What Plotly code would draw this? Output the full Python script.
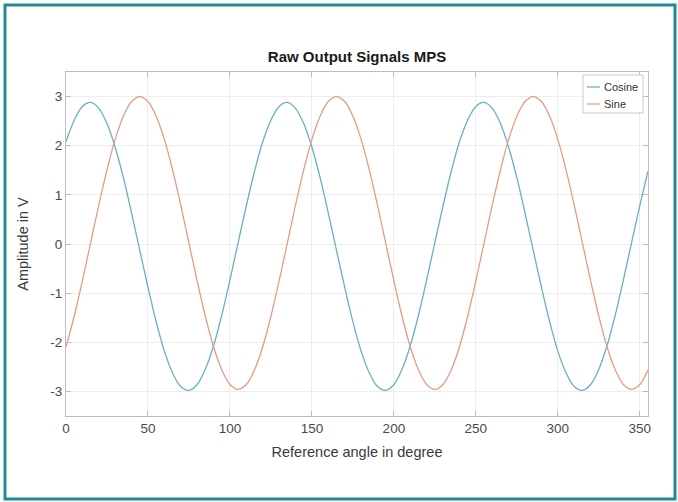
import plotly.graph_objects as go

# Reference angle in degrees (5 degree steps)
angle_deg = list(range(0, 360, 5))

# Cosine channel output, volts
cosine_v = [
    2.08, 2.52, 2.80, 2.88, 2.76, 2.45, 1.97, 1.35, 0.63, -0.13, -0.88, -1.58,
    -2.18, -2.62, -2.90, -2.98, -2.86, -2.55, -2.07, -1.45, -0.73, 0.03, 0.78, 1.48,
    2.08, 2.52, 2.80, 2.88, 2.76, 2.45, 1.97, 1.35, 0.63, -0.13, -0.88, -1.58,
    -2.18, -2.62, -2.90, -2.98, -2.86, -2.55, -2.07, -1.45, -0.73, 0.03, 0.78, 1.48,
    2.08, 2.52, 2.80, 2.88, 2.76, 2.45, 1.97, 1.35, 0.63, -0.13, -0.88, -1.58,
    -2.18, -2.62, -2.90, -2.98, -2.86, -2.55, -2.07, -1.45, -0.73, 0.03, 0.78, 1.48,
]

# Sine channel output, volts
sine_v = [
    -2.09, -1.47, -0.75, 0.02, 0.79, 1.51, 2.13, 2.60, 2.90, 3.00, 2.90, 2.60,
    2.13, 1.51, 0.79, 0.02, -0.75, -1.47, -2.09, -2.56, -2.86, -2.96, -2.86, -2.56,
    -2.09, -1.47, -0.75, 0.02, 0.79, 1.51, 2.13, 2.60, 2.90, 3.00, 2.90, 2.60,
    2.13, 1.51, 0.79, 0.02, -0.75, -1.47, -2.09, -2.56, -2.86, -2.96, -2.86, -2.56,
    -2.09, -1.47, -0.75, 0.02, 0.79, 1.51, 2.13, 2.60, 2.90, 3.00, 2.90, 2.60,
    2.13, 1.51, 0.79, 0.02, -0.75, -1.47, -2.09, -2.56, -2.86, -2.96, -2.86, -2.56,
]

x_ticks = [0, 50, 100, 150, 200, 250, 300, 350]
y_ticks = [-3, -2, -1, 0, 1, 2, 3]
y_tick_text = ["-3", "-2", "-1", "0", "1", "2", "3"]

series_names = ["Cosine", "Sine"]
series_colors = ["#68b2c0", "#e69c84"]

FONT = "Liberation Sans, Arial, sans-serif"

# Plot-area placement in pixels (used for the frame and the legend box)
L, R, T, B = 66, 648, 72, 416
W, H = R - L, B - T


def px_x(px):
    return (px - L) / W


def px_y(py):
    return (B - py) / H


fig = go.Figure()
for name, vals, col in zip(series_names, [cosine_v, sine_v], series_colors):
    fig.add_trace(go.Scatter(
        x=angle_deg, y=vals, name=name, mode="lines",
        line=dict(color=col, width=1.3, shape="spline", smoothing=1.0),
        showlegend=False,
    ))

axis_common = dict(
    showline=True, linecolor="#bcbcbc", linewidth=1.2, mirror="ticks",
    ticks="inside", ticklen=5, tickcolor="#bcbcbc",
    showgrid=True, gridcolor="#ededed", gridwidth=1,
    zeroline=False,
    tickfont=dict(family=FONT, size=13.5, color="#4a4a4a"),
)

fig.update_layout(
    width=678, height=502,
    margin=dict(l=L, r=678 - R, t=T, b=502 - B),
    paper_bgcolor="white", plot_bgcolor="white",
    title=dict(
        text="<b>Raw Output Signals MPS</b>",
        x=(357 / 678), xanchor="center",
        y=1 - 57 / 502, yanchor="middle",
        font=dict(family=FONT, size=15, color="#1a1a1a"),
    ),
    xaxis=dict(
        range=[0, 355], tickvals=x_ticks,
        title=dict(text="Reference angle in degree", standoff=11,
                   font=dict(family=FONT, size=14.5, color="#3a3a3a")),
        **axis_common,
    ),
    yaxis=dict(
        range=[-3.5, 3.5], tickvals=y_ticks, ticktext=y_tick_text,
        title=dict(text="Amplitude in V", standoff=18,
                   font=dict(family=FONT, size=14.5, color="#3a3a3a")),
        **axis_common,
    ),
    showlegend=False,
)

# Compact legend box in the upper right corner
fig.add_shape(
    type="rect", xref="paper", yref="paper",
    x0=px_x(583), x1=px_x(643), y0=px_y(113), y1=px_y(75),
    line=dict(color="#c8c8c8", width=1), fillcolor="white", layer="above",
)
for i, (name, col) in enumerate(zip(series_names, series_colors)):
    yy = px_y(87 + i * 17)
    fig.add_shape(
        type="line", xref="paper", yref="paper",
        x0=px_x(587), x1=px_x(600), y0=yy, y1=yy,
        line=dict(color=col, width=1.3), layer="above",
    )
    fig.add_annotation(
        x=px_x(602), y=yy, xref="paper", yref="paper",
        text=name, showarrow=False, xanchor="left", yanchor="middle",
        font=dict(family=FONT, size=11, color="#333333"),
    )

# Teal frame around the whole figure
fig.add_shape(
    type="rect", xref="paper", yref="paper",
    x0=px_x(5), x1=px_x(675), y0=px_y(499), y1=px_y(5),
    line=dict(color="#1f8a8f", width=3), fillcolor="rgba(0,0,0,0)",
    layer="above",
)

fig.write_html("out.html")
